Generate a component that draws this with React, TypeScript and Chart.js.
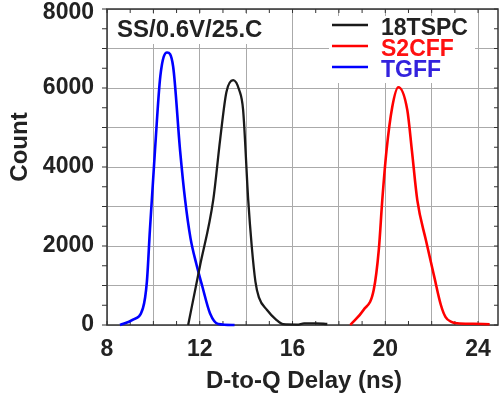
import React, { useEffect, useRef } from "react";
import { Chart, registerables } from "chart.js";

Chart.register(...registerables);

const tgffX = [8.56, 9.1, 9.55, 9.72, 9.85, 10.07, 10.3, 10.59, 10.85, 11.15, 11.37, 11.6, 11.85, 12.1, 12.44, 12.8, 13.5];
const tgffY = [0, 130, 430, 1100, 2400, 4430, 6300, 6900, 6550, 4430, 3160, 2200, 1550, 1000, 300, 25, 0];

const tspcX = [11.5, 12.0, 12.58, 12.88, 13.15, 13.44, 13.7, 13.87, 14.09, 14.24, 14.4, 14.55, 14.9, 15.3, 15.6, 16.2, 16.5, 17.0, 17.5];
const tspcY = [0, 1470, 3160, 4700, 5900, 6200, 5950, 5440, 3160, 2000, 1100, 700, 380, 130, 20, 10, 40, 40, 25];

const s2cffX = [18.49, 19.06, 19.5, 19.72, 19.87, 20.05, 20.3, 20.56, 20.95, 21.15, 21.38, 21.75, 22.1, 22.4, 22.6, 22.85, 23.1, 23.8, 24.5];
const s2cffY = [0, 380, 885, 1900, 3160, 4400, 5520, 6020, 5440, 4400, 3160, 2150, 1250, 500, 200, 80, 45, 30, 20];

const seriesNames = ["18TSPC", "S2CFF", "TGFF"];
const lineColors = ["#1a1a1a", "#ff0000", "#0000ff"];
const textColors = ["#222222", "#ff1111", "#3322dd"];

const xTitle = "D-to-Q Delay (ns)";
const yTitle = "Count";
const cornerLabel = "SS/0.6V/25.C";

const X_MIN = 8;
const X_MAX = 24.86;
const Y_MIN = 0;
const Y_MAX = 8000;

const FONT = "'Liberation Sans', Arial, sans-serif";

function pts(xs: number[], ys: number[]) {
  return xs.map((x, i) => ({ x, y: ys[i] }));
}

const decorPlugin = {
  id: "decor",
  beforeDatasetsDraw(chart: any) {
    const { ctx, chartArea } = chart;
    const { left, right, top, bottom } = chartArea;
    const xs = chart.scales.x;
    const ys = chart.scales.y;
    ctx.save();
    ctx.fillStyle = "#ffffff";
    ctx.fillRect(113, 14, 152, 30);
    ctx.fillRect(329, 16, 146, 67);

    ctx.font = `bold 24px ${FONT}`;
    ctx.fillStyle = "#222222";
    ctx.textAlign = "left";
    ctx.textBaseline = "middle";
    ctx.fillText(cornerLabel, 117, 30);

    const rowY = [27, 48, 69];
    ctx.font = `bold 23px ${FONT}`;
    for (let i = 0; i < seriesNames.length; i++) {
      ctx.strokeStyle = lineColors[i];
      ctx.lineWidth = 2.5;
      ctx.beginPath();
      ctx.moveTo(332, rowY[i] - 2);
      ctx.lineTo(368, rowY[i] - 2);
      ctx.stroke();
      ctx.fillStyle = textColors[i];
      ctx.fillText(seriesNames[i], 381, rowY[i] + 2);
    }

    ctx.strokeStyle = "#333333";
    ctx.lineWidth = 1.5;
    ctx.strokeRect(left, top, right - left, bottom - top);

    ctx.lineWidth = 1;
    for (let v = X_MIN; v <= 24; v += 1) {
      const px = xs.getPixelForValue(v);
      ctx.beginPath();
      ctx.moveTo(px, bottom);
      ctx.lineTo(px, bottom - 4);
      ctx.moveTo(px, top);
      ctx.lineTo(px, top + 4);
      ctx.stroke();
    }
    for (let v = Y_MIN; v <= Y_MAX; v += 500) {
      const py = ys.getPixelForValue(v);
      ctx.beginPath();
      ctx.moveTo(left, py);
      ctx.lineTo(left - 5, py);
      ctx.moveTo(right, py);
      ctx.lineTo(right - 4, py);
      ctx.stroke();
    }

    ctx.fillStyle = "#222222";
    ctx.font = `bold 24px ${FONT}`;
    ctx.textAlign = "center";
    ctx.textBaseline = "middle";
    ctx.fillText(xTitle, 304, 381);
    ctx.save();
    ctx.translate(20, 147);
    ctx.rotate(-Math.PI / 2);
    ctx.fillText(yTitle, 0, 0);
    ctx.restore();
    ctx.restore();
  },
};

export default function App() {
  const ref = useRef<HTMLCanvasElement | null>(null);
  useEffect(() => {
    if (!ref.current) return;
    const mk = (label: string, data: any, color: string, w: number) => ({
      label,
      data,
      borderColor: color,
      backgroundColor: color,
      borderWidth: w,
      pointRadius: 0,
      cubicInterpolationMode: "monotone" as const,
      clip: false as any,
      fill: false,
    });
    const chart = new Chart(ref.current, {
      type: "line",
      data: {
        datasets: [
          mk(seriesNames[0], pts(tspcX, tspcY), lineColors[0], 2.3),
          mk(seriesNames[1], pts(s2cffX, s2cffY), lineColors[1], 2.6),
          mk(seriesNames[2], pts(tgffX, tgffY), lineColors[2], 2.6),
        ],
      },
      options: {
        responsive: false,
        animation: false,
        layout: { padding: { top: 9, right: 1, left: 0, bottom: 0 } },
        plugins: { legend: { display: false }, tooltip: { enabled: false } },
        scales: {
          x: {
            type: "linear",
            min: X_MIN,
            max: X_MAX,
            afterFit: (s: any) => {
              s.height = 75;
              s.paddingLeft = 0;
              s.paddingRight = 0;
              s.paddingTop = 0;
              s.paddingBottom = 0;
            },
            border: { display: false },
            grid: { color: "#aaaaaa", lineWidth: 1, drawTicks: false },
            ticks: {
              stepSize: 2,
              includeBounds: false,
              autoSkip: false,
              maxRotation: 0,
              padding: 11,
              color: "#222222",
              font: { family: FONT, size: 23, weight: "bold" },
              callback: (v: any) => (Number(v) % 4 === 0 ? String(v) : ""),
            },
          },
          y: {
            type: "linear",
            min: Y_MIN,
            max: Y_MAX,
            afterFit: (s: any) => {
              s.width = 107;
              s.paddingLeft = 0;
              s.paddingRight = 0;
              s.paddingTop = 0;
              s.paddingBottom = 0;
            },
            border: { display: false },
            grid: { color: "#aaaaaa", lineWidth: 1, drawTicks: false },
            ticks: {
              stepSize: 1000,
              autoSkip: false,
              padding: 13,
              color: "#222222",
              font: { family: FONT, size: 23, weight: "bold", lineHeight: 0.35 },
              callback: (v: any) => {
                const n = Number(v);
                if (n % 2000 !== 0) return "";
                return n === Y_MAX ? ["", String(n)] : String(n);
              },
            },
          },
        },
      },
      plugins: [decorPlugin],
    });
    return () => chart.destroy();
  }, []);
  return (
    <div style={{ position: "fixed", left: 0, top: 0, width: 499, height: 400, background: "#fff" }}>
      <canvas ref={ref} width={499} height={400} style={{ display: "block" }} />
    </div>
  );
}
